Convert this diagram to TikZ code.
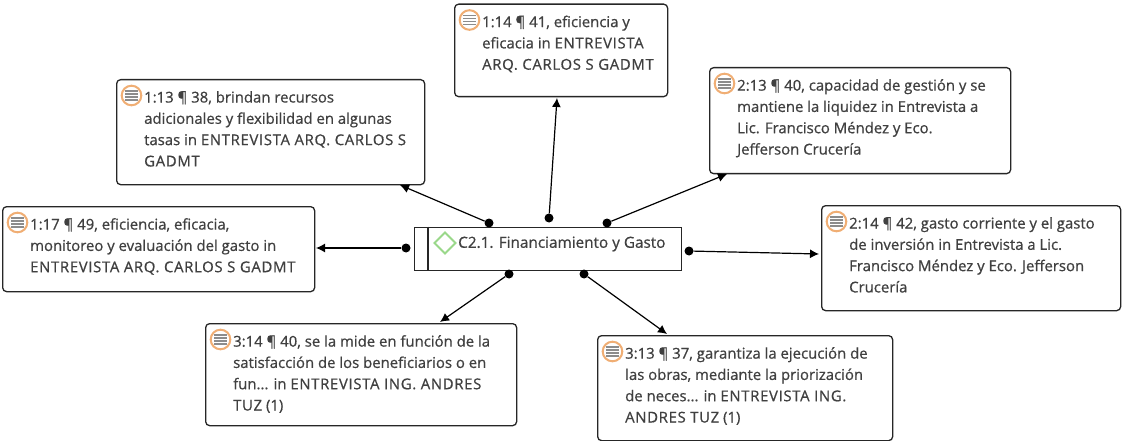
\documentclass[tikz,border=0pt]{standalone}
\usepackage{fontspec}
\setmainfont{Open Sans}[RawFeature={embolden=0.7}]
\usetikzlibrary{arrows.meta,calc}
\definecolor{txt}{HTML}{404040}
\definecolor{ring}{HTML}{F0AE74}
\definecolor{lin}{HTML}{8C8C8C}
\definecolor{dia}{HTML}{9AD88A}
\newcommand{\uc}[1]{{\addfontfeature{LetterSpace=4.5}#1}}
\tikzset{
  quotebox/.style={draw=black!85,line width=1.3pt,rounded corners=4pt,fill=white,inner sep=0pt},
  quotetext/.style={anchor=north west,inner sep=0pt,align=left,text=txt,font=\fontsize{14.9}{21.3}\selectfont},
  conn/.style={line width=1.2pt,black,-{Latex[length=9pt,width=9pt]}},
  dotnode/.style={circle,fill=black,inner sep=0pt,minimum size=9pt},
}
\newcommand{\quotenode}[6]{% name x1 y1 x2 y2 text
  \node[quotebox,minimum width=#4pt-#2pt,minimum height=#5pt-#3pt,anchor=north west] (#1) at (#2,#3) {};
  \draw[ring,line width=2pt,fill=white] (#2+15.5,#3+16.5) circle (9.8);
  \foreach \k in {-4.5,-1.5,1.5,4.5}{\draw[lin,line width=1.7pt] (#2+9,#3+16.5+\k) -- (#2+22,#3+16.5+\k);}
  \node[quotetext] (#1t) at (#2+28,#3+12) {#6};
}
\begin{document}
\begin{tikzpicture}[x=1pt,y=-1pt]
\useasboundingbox (0,0) rectangle (1122,441);
\quotenode{qa}{454}{3.5}{667}{96}{1:14 ¶ 41, eficiencia y\\eficacia in \uc{ENTREVISTA}\\\uc{ARQ. CARLOS S GADMT}}
\quotenode{qb}{709}{67}{1010}{173}{2:13 ¶ 40, capacidad de gestión y se\\mantiene la liquidez in Entrevista a\\Lic. Francisco Méndez y Eco.\\Jefferson Crucería}
\quotenode{qc}{116}{79}{424}{184}{1:13 ¶ 38, brindan recursos\\adicionales y flexibilidad en algunas\\tasas in \uc{ENTREVISTA ARQ. CARLOS S}\\\uc{GADMT}}
\quotenode{qd}{2}{206}{314}{291}{1:17 ¶ 49, eficiencia, eficacia,\\monitoreo y evaluación del gasto in\\\uc{ENTREVISTA ARQ. CARLOS S GADMT}}
\quotenode{qe}{821}{205}{1120}{310}{2:14 ¶ 42, gasto corriente y el gasto\\de inversión in Entrevista a Lic.\\Francisco Méndez y Eco. Jefferson\\Crucería}
\quotenode{qf}{205}{323}{516}{425}{3:14 ¶ 40, se la mide en función de la\\satisfacción de los beneficiarios o en\\fun... in \uc{ENTREVISTA ING. ANDRES}\\\uc{TUZ} (1)}
\quotenode{qg}{597}{335}{892}{440}{3:13 ¶ 37, garantiza la ejecución de\\las obras, mediante la priorización\\de neces... in \uc{ENTREVISTA ING.}\\\uc{ANDRES TUZ} (1)}
% central code node
\node[draw=black!85,line width=1.1pt,minimum width=267pt,minimum height=43pt,inner sep=0pt,anchor=north west] (code) at (414,226.5) {};
\draw[black!85,line width=1.1pt] ($(code.north west)+(14,0)$) -- ($(code.south west)+(14,0)$);
\draw[dia,line width=1.8pt,fill=white] (445,232.5) -- (455.5,243) -- (445,253.5) -- (434.5,243) -- cycle;
\node[anchor=west,inner sep=0pt,text=txt,font=\fontsize{15.3}{18}\selectfont] (codet) at (458,244) {C2.1. Financiamiento y Gasto};
% dots
\node[dotnode] (d1) at (489,223) {};
\node[dotnode] (d2) at (549,218) {};
\node[dotnode] (d3) at (607,223) {};
\node[dotnode] (d4) at (406,248) {};
\node[dotnode] (d5) at (689,251) {};
\node[dotnode] (d6) at (509,274) {};
\node[dotnode] (d7) at (584,274) {};
% connector ends on box borders
\coordinate (e1) at (400,185);
\coordinate (e2) at (557,98);
\coordinate (e3) at (727,174);
\coordinate (e4) at (316,248);
\coordinate (e5) at (819,254);
\coordinate (e6) at (440,322);
\coordinate (e7) at (667,334);
\foreach \a/\b in {d1/e1,d2/e2,d3/e3,d4/e4,d5/e5,d6/e6,d7/e7}{\draw[conn] (\a) -- (\b);}
\end{tikzpicture}
\end{document}
